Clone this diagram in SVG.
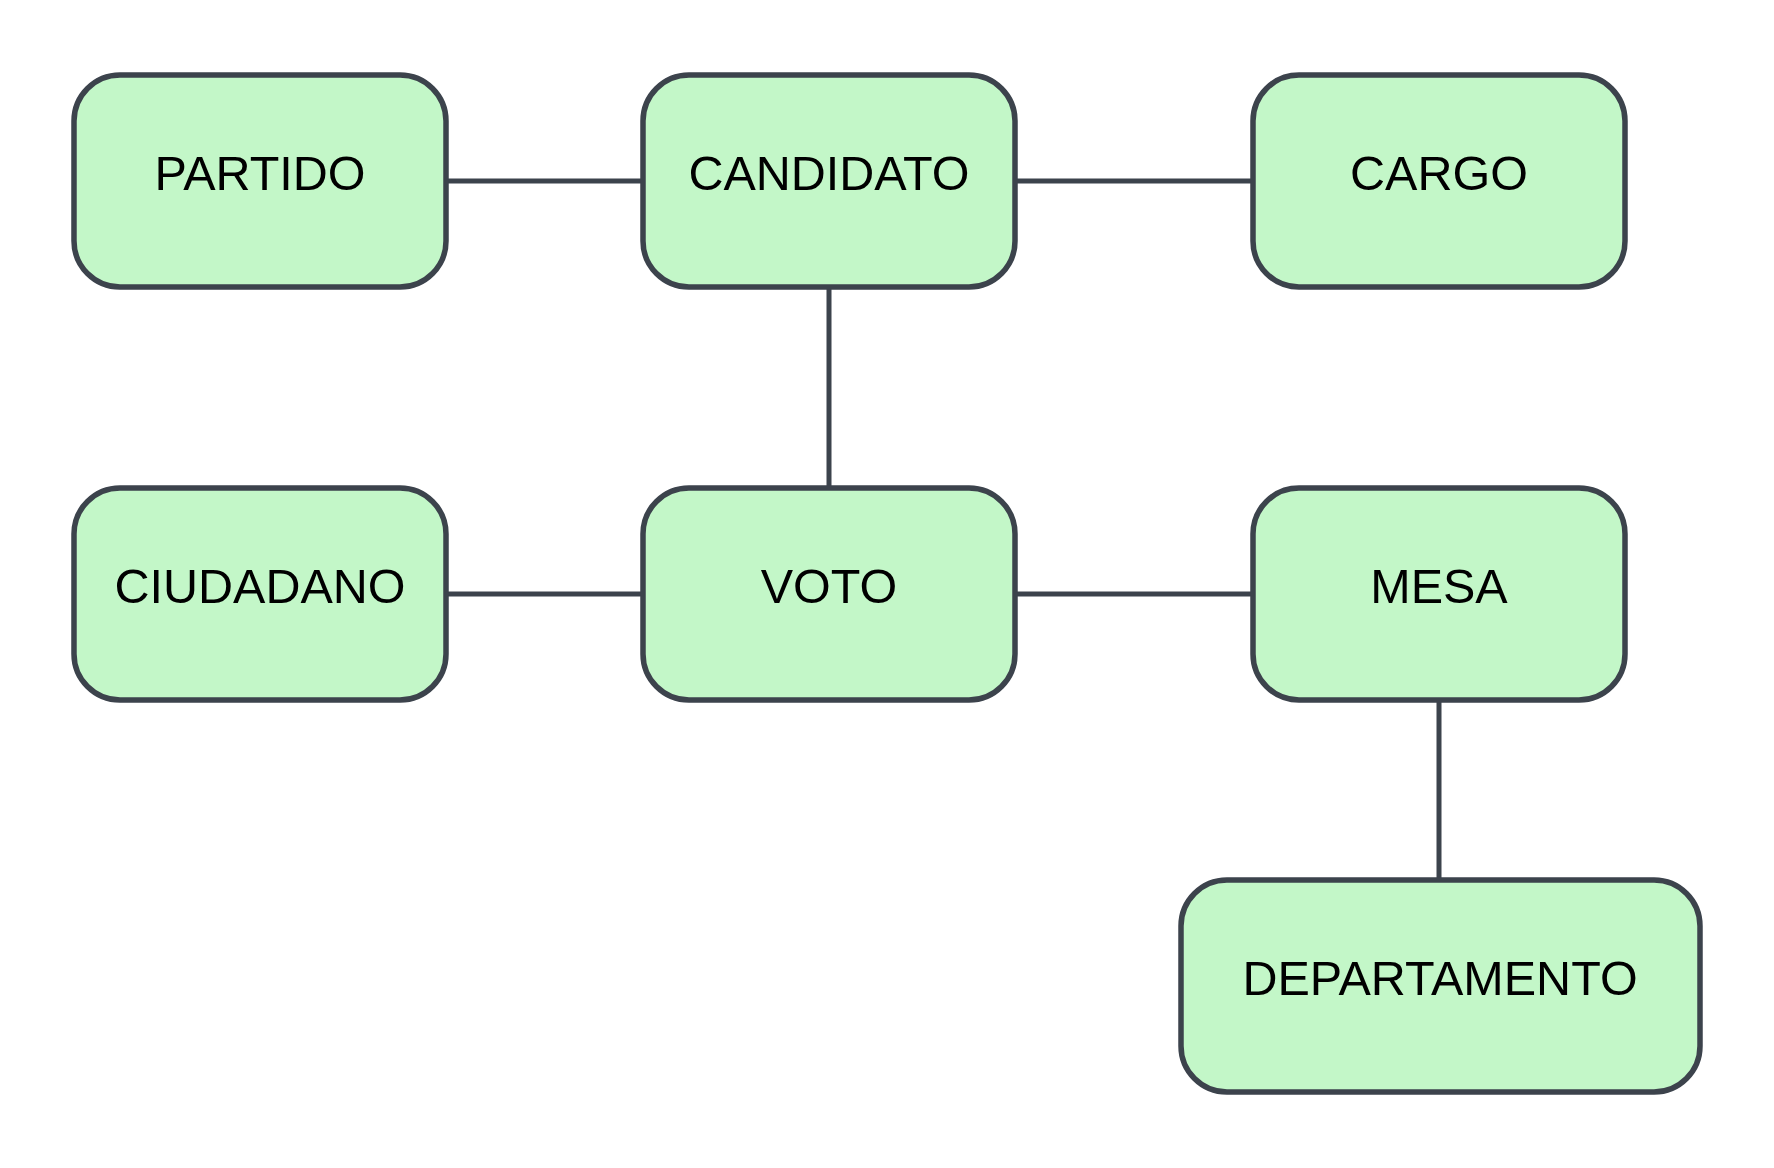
<svg xmlns="http://www.w3.org/2000/svg" width="1774" height="1168" viewBox="0 0 1774 1168">
<style>
.box{fill:#c3f7c8;stroke:#3c434c;stroke-width:5.5}
.lbl{font-family:"Liberation Sans",Arial,sans-serif;font-size:48.5px;fill:#000;text-anchor:middle}
.edge{stroke:#3c434c;stroke-width:5;fill:none}
</style>
<rect width="1774" height="1168" fill="#ffffff"/>
<g id="connectors">
<line class="edge" x1="446" y1="181" x2="643" y2="181"/>
<line class="edge" x1="1015" y1="181" x2="1253" y2="181"/>
<line class="edge" x1="829" y1="287" x2="829" y2="488"/>
<line class="edge" x1="446" y1="594" x2="643" y2="594"/>
<line class="edge" x1="1015" y1="594" x2="1253" y2="594"/>
<line class="edge" x1="1439" y1="700" x2="1439" y2="880"/>
</g>
<g id="partido"><rect class="box" x="74" y="75" width="372" height="212" rx="46" ry="46"/><text class="lbl" x="260" y="190">PARTIDO</text></g>
<g id="candidato"><rect class="box" x="643" y="75" width="372" height="212" rx="46" ry="46"/><text class="lbl" x="829" y="190">CANDIDATO</text></g>
<g id="cargo"><rect class="box" x="1253" y="75" width="372" height="212" rx="46" ry="46"/><text class="lbl" x="1439" y="190">CARGO</text></g>
<g id="ciudadano"><rect class="box" x="74" y="488" width="372" height="212" rx="46" ry="46"/><text class="lbl" x="260" y="603">CIUDADANO</text></g>
<g id="voto"><rect class="box" x="643" y="488" width="372" height="212" rx="46" ry="46"/><text class="lbl" x="829" y="603">VOTO</text></g>
<g id="mesa"><rect class="box" x="1253" y="488" width="372" height="212" rx="46" ry="46"/><text class="lbl" x="1439" y="603">MESA</text></g>
<g id="departamento"><rect class="box" x="1181" y="880" width="519" height="212" rx="46" ry="46"/><text class="lbl" x="1440" y="995">DEPARTAMENTO</text></g>
</svg>
